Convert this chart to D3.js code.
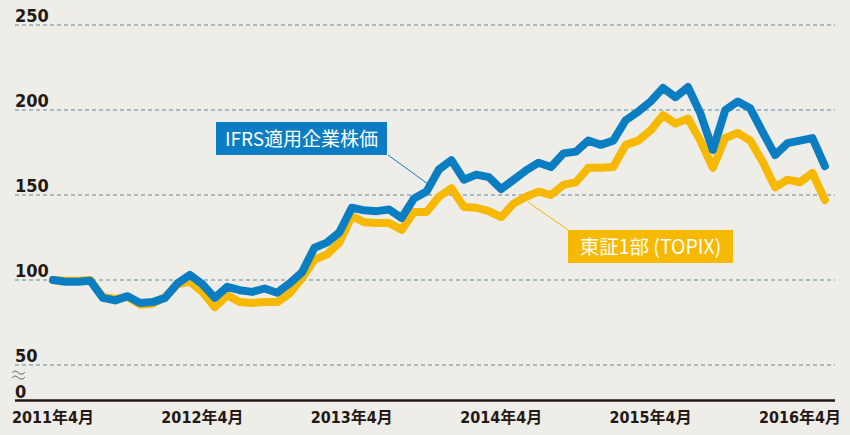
<!DOCTYPE html>
<html>
<head>
<meta charset="utf-8">
<script src="https://cdn.jsdelivr.net/npm/d3@7"></script>
<style>
  body { margin: 0; background: #efede8; }
  svg { display: block; }
</style>
</head>
<body>
<div id="chart"></div>
<script>
// monthly index values, 2011/4 .. 2016/6 (2011/4 = 100)
var ifrs = [100, 99, 99, 99.5, 89.5, 88, 90.5, 86.5, 87, 89.5, 98, 103,
            97.5, 89.5, 96, 94, 93, 95, 92.5, 98, 104.5, 119, 122, 128,
            142.5, 141, 140.5, 141.5, 136.5, 148, 152, 165, 170.5, 159, 162, 160.5,
            153.5, 159, 164.5, 169, 166.5, 174.5, 175.5, 182, 179.5, 182, 194, 199,
            205, 213, 207.5, 213.5, 198, 176.5, 200, 205, 201, 187, 173.5, 180.5,
            182, 183.5, 167];
var topix = [100, 99.5, 99.5, 100, 90, 89, 90, 85.5, 86, 90, 97.5, 99,
             93, 84, 91, 87, 86.5, 87, 87, 92, 101, 112, 115, 122,
             137.5, 134, 133.5, 133.5, 129.5, 140, 140, 149, 154, 143, 142.5, 140.5,
             137, 145, 149, 152, 150, 156, 157.5, 166, 166, 166.5, 179.5, 182,
             188, 197, 192, 195, 182, 166, 183.5, 186.5, 182, 169.5, 154.5, 159,
             157.5, 163, 147];
var yTicks = [50, 100, 150, 200, 250];
var xTicks = [0, 12, 24, 36, 48, 60];
var xTickLabels = ["2011年4月", "2012年4月", "2013年4月", "2014年4月", "2015年4月", "2016年4月"];

var width = 850, height = 435;
var numFont = "'Liberation Sans Narrow', 'DejaVu Sans Condensed', 'Noto Sans CJK JP', sans-serif";
var textFont = "'Noto Sans CJK JP', sans-serif";

var svg = d3.select("#chart").append("svg")
    .attr("width", width)
    .attr("height", height);

svg.append("rect")
    .attr("width", width)
    .attr("height", height)
    .attr("fill", "#efede8");

var x = d3.scaleLinear().domain([0, 60]).range([53, 800]);
var y = d3.scaleLinear().domain([50, 250]).range([365, 25]);

// gridlines
svg.append("g")
    .selectAll("line")
    .data(yTicks)
    .enter()
    .append("line")
    .attr("x1", 15)
    .attr("x2", 835)
    .attr("y1", function (d) { return y(d); })
    .attr("y2", function (d) { return y(d); })
    .attr("stroke", "#5a87a0")
    .attr("stroke-width", 1.2)
    .attr("stroke-dasharray", "4,3");

// y labels
svg.append("g")
    .selectAll("text")
    .data(yTicks)
    .enter()
    .append("text")
    .attr("x", 15)
    .attr("y", function (d) { return y(d) - 3; })
    .attr("font-family", numFont)
    .attr("font-weight", "bold")
    .attr("font-size", 18)
    .attr("fill", "#231815")
    .text(function (d) { return d; });

svg.append("text")
    .attr("x", 15)
    .attr("y", 398)
    .attr("font-family", numFont)
    .attr("font-weight", "bold")
    .attr("font-size", 18)
    .attr("fill", "#231815")
    .text("0");

// axis break mark (two small waves)
var wave = d3.line().curve(d3.curveBasis);
[372, 377].forEach(function (wy) {
    svg.append("path")
        .attr("d", wave([[12, wy + 1], [15, wy - 2], [18.5, wy + 1], [22, wy + 3], [25, wy]]))
        .attr("fill", "none")
        .attr("stroke", "#555")
        .attr("stroke-width", 1);
});

// baseline
svg.append("line")
    .attr("x1", 15)
    .attr("x2", 835)
    .attr("y1", 400.5)
    .attr("y2", 400.5)
    .attr("stroke", "#231815")
    .attr("stroke-width", 2.5);

// x labels
svg.append("g")
    .selectAll("text")
    .data(xTicks)
    .enter()
    .append("text")
    .attr("x", function (d) { return x(d); })
    .attr("y", 423)
    .attr("text-anchor", "middle")
    .attr("font-family", numFont)
    .attr("font-weight", "bold")
    .attr("font-size", 16)
    .attr("fill", "#231815")
    .text(function (d, i) { return xTickLabels[i]; });

var line = d3.line()
    .x(function (d, i) { return x(i); })
    .y(function (d) { return y(d); });

svg.append("path")
    .datum(topix)
    .attr("d", line)
    .attr("fill", "none")
    .attr("stroke", "#f7b900")
    .attr("stroke-width", 8)
    .attr("stroke-linejoin", "round")
    .attr("stroke-linecap", "round");

svg.append("path")
    .datum(ifrs)
    .attr("d", line)
    .attr("fill", "none")
    .attr("stroke", "#0b7dc2")
    .attr("stroke-width", 8)
    .attr("stroke-linejoin", "round")
    .attr("stroke-linecap", "round");

// labels with leader lines
svg.append("line")
    .attr("x1", 388).attr("y1", 155)
    .attr("x2", 428).attr("y2", 184)
    .attr("stroke", "#0b7dc2")
    .attr("stroke-width", 1);

svg.append("rect")
    .attr("x", 216).attr("y", 122)
    .attr("width", 171).attr("height", 33)
    .attr("fill", "#0b7dc2");

svg.append("text")
    .attr("x", 301.5).attr("y", 146)
    .attr("text-anchor", "middle")
    .attr("font-family", textFont)
    .attr("font-size", 19)
    .attr("fill", "#fff")
    .text("IFRS適用企業株価");

svg.append("line")
    .attr("x1", 528).attr("y1", 202)
    .attr("x2", 568).attr("y2", 230)
    .attr("stroke", "#f7b900")
    .attr("stroke-width", 1);

svg.append("rect")
    .attr("x", 568).attr("y", 230)
    .attr("width", 165).attr("height", 33)
    .attr("fill", "#f7b900");

svg.append("text")
    .attr("x", 650.5).attr("y", 254)
    .attr("text-anchor", "middle")
    .attr("font-family", textFont)
    .attr("font-size", 19.5)
    .attr("fill", "#fff")
    .text("東証1部 (TOPIX)");
</script>
</body>
</html>
